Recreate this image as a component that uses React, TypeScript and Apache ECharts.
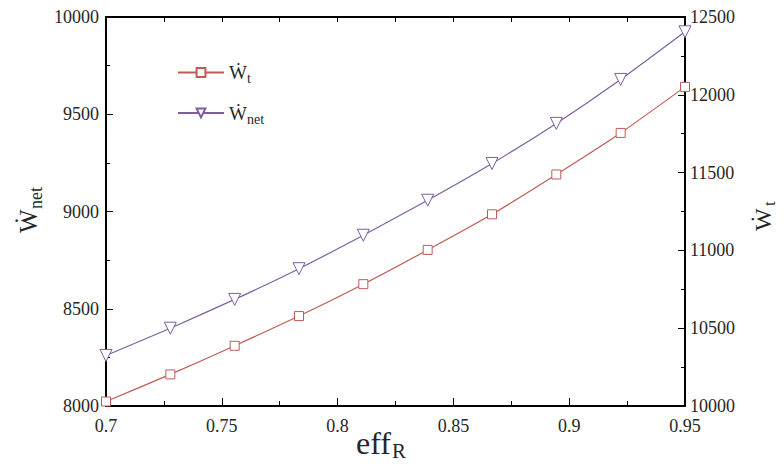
import React, { useEffect, useRef } from 'react';
import * as echarts from 'echarts';

const effR = [0.7, 0.72778, 0.75556, 0.78333, 0.81111, 0.83889, 0.86667, 0.89444, 0.92222, 0.95];
const wtValues = [10029, 10203, 10387, 10578, 10783, 11003, 11232, 11488, 11755, 12051];
const wnetValues = [8260, 8400, 8548, 8706, 8878, 9058, 9247, 9453, 9679, 9924];
const xRange = [0.7, 0.95];
const leftRange = [8000, 10000];
const rightRange = [10000, 12500];
const seriesNames = ['Ẇt', 'Ẇnet'];

const FONT = 'Liberation Serif';
const RED = '#c05a56';
const PURPLE = '#7d5fa0';
const TEXT = '#262626';

export default function App() {
  const ref = useRef<HTMLDivElement>(null);
  useEffect(() => {
    if (!ref.current) return;
    const chart = echarts.init(ref.current, null, { renderer: 'svg' });
    const axisLine = { show: true, lineStyle: { color: '#000', width: 2 } };
    const fmt = (v: number) => String(Math.round(v * 1000) / 1000);
    const mkLabel = (margin: number) => ({
      show: true,
      fontSize: 18,
      fontFamily: FONT,
      fontWeight: 'normal',
      color: TEXT,
      margin,
      formatter: fmt,
    });
    const option: any = {
      animation: false,
      backgroundColor: '#fff',
      textStyle: { fontFamily: FONT, fontSize: 18, color: TEXT },
      grid: { left: 106, right: 99, top: 17, bottom: 58, containLabel: false },
      legend: {
        orient: 'vertical',
        left: 172,
        top: 58,
        itemWidth: 46,
        itemHeight: 11,
        itemGap: 18,
        data: seriesNames,
        formatter: (name: string) => (name === seriesNames[0] ? '{w|Ẇ}{s|t}' : '{w|Ẇ}{s|net}'),
        textStyle: {
          color: TEXT,
          fontFamily: FONT,
          rich: {
            w: { fontSize: 19, fontFamily: FONT, color: TEXT, lineHeight: 26, verticalAlign: 'middle' },
            s: { fontSize: 14, fontFamily: FONT, color: TEXT, lineHeight: 14, verticalAlign: 'bottom' },
          },
        },
      },
      xAxis: [
        {
          type: 'value',
          position: 'bottom',
          min: xRange[0],
          max: xRange[1],
          interval: 0.05,
          axisLine,
          axisTick: { show: true, inside: true, length: 8, lineStyle: { color: '#000', width: 1 } },
          minorTick: { show: true, splitNumber: 2, length: 5, lineStyle: { color: '#000', width: 1 } },
          axisLabel: mkLabel(11),
          splitLine: { show: false },
        },
        {
          type: 'value',
          position: 'top',
          min: xRange[0],
          max: xRange[1],
          interval: 0.05,
          axisLine,
          axisTick: { show: true, inside: true, length: 5, lineStyle: { color: '#000', width: 1 } },
          minorTick: { show: true, splitNumber: 2, length: 5, lineStyle: { color: '#000', width: 1 } },
          axisLabel: { show: false },
          splitLine: { show: false },
        },
      ],
      yAxis: [
        {
          type: 'value',
          position: 'left',
          min: leftRange[0],
          max: leftRange[1],
          interval: 500,
          axisLine,
          axisTick: { show: true, inside: true, length: 7, lineStyle: { color: '#000', width: 1 } },
          minorTick: { show: true, splitNumber: 2, length: 4, lineStyle: { color: '#000', width: 1 } },
          axisLabel: mkLabel(7),
          splitLine: { show: false },
        },
        {
          type: 'value',
          position: 'right',
          min: rightRange[0],
          max: rightRange[1],
          interval: 500,
          axisLine,
          axisTick: { show: true, inside: true, length: 7, lineStyle: { color: '#000', width: 1 } },
          minorTick: { show: true, splitNumber: 2, length: 4, lineStyle: { color: '#000', width: 1 } },
          axisLabel: mkLabel(5),
          splitLine: { show: false },
        },
      ],
      series: [
        {
          name: seriesNames[0],
          type: 'line',
          xAxisIndex: 0,
          yAxisIndex: 1,
          data: effR.map((x, i) => [x, wtValues[i]]),
          smooth: 0.2,
          symbol: 'rect',
          symbolSize: 9,
          showAllSymbol: true,
          lineStyle: { color: RED, width: 1.2 },
          itemStyle: { color: '#fff', borderColor: RED, borderWidth: 1 },
          z: 3,
        },
        {
          name: seriesNames[1],
          type: 'line',
          xAxisIndex: 0,
          yAxisIndex: 0,
          data: effR.map((x, i) => [x, wnetValues[i]]),
          smooth: 0.2,
          symbol: 'triangle',
          symbolRotate: 180,
          symbolSize: 12,
          showAllSymbol: true,
          lineStyle: { color: PURPLE, width: 1.2 },
          itemStyle: { color: '#fff', borderColor: PURPLE, borderWidth: 1 },
          z: 3,
        },
      ],
      graphic: [
        {
          type: 'group',
          x: 28,
          y: 233,
          rotation: Math.PI / 2,
          children: [
            { type: 'text', x: 0, y: 0, style: { text: 'Ẇ', fontSize: 25, fontFamily: FONT, fill: TEXT, textAlign: 'left', textVerticalAlign: 'middle' } },
            { type: 'text', x: 24, y: 8, style: { text: 'net', fontSize: 18, fontFamily: FONT, fill: TEXT, textAlign: 'left', textVerticalAlign: 'middle' } },
          ],
        },
        {
          type: 'group',
          x: 763,
          y: 231,
          rotation: Math.PI / 2,
          children: [
            { type: 'text', x: 0, y: 0, style: { text: 'Ẇ', fontSize: 24, fontFamily: FONT, fill: TEXT, textAlign: 'left', textVerticalAlign: 'middle' } },
            { type: 'text', x: 25, y: 6, style: { text: 't', fontSize: 17, fontFamily: FONT, fill: TEXT, textAlign: 'left', textVerticalAlign: 'middle' } },
          ],
        },
        {
          type: 'group',
          x: 356,
          y: 443,
          children: [
            { type: 'text', x: 0, y: 0, style: { text: 'eff', fontSize: 32, fontFamily: FONT, fill: TEXT, textAlign: 'left', textVerticalAlign: 'middle' } },
            { type: 'text', x: 36, y: 8, style: { text: 'R', fontSize: 21, fontFamily: FONT, fill: TEXT, textAlign: 'left', textVerticalAlign: 'middle' } },
          ],
        },
      ],
    };
    chart.setOption(option);
    return () => chart.dispose();
  }, []);
  return (
    <div
      ref={ref}
      style={{ position: 'fixed', left: 0, top: 0, width: 784, height: 464, background: '#fff' }}
    />
  );
}
